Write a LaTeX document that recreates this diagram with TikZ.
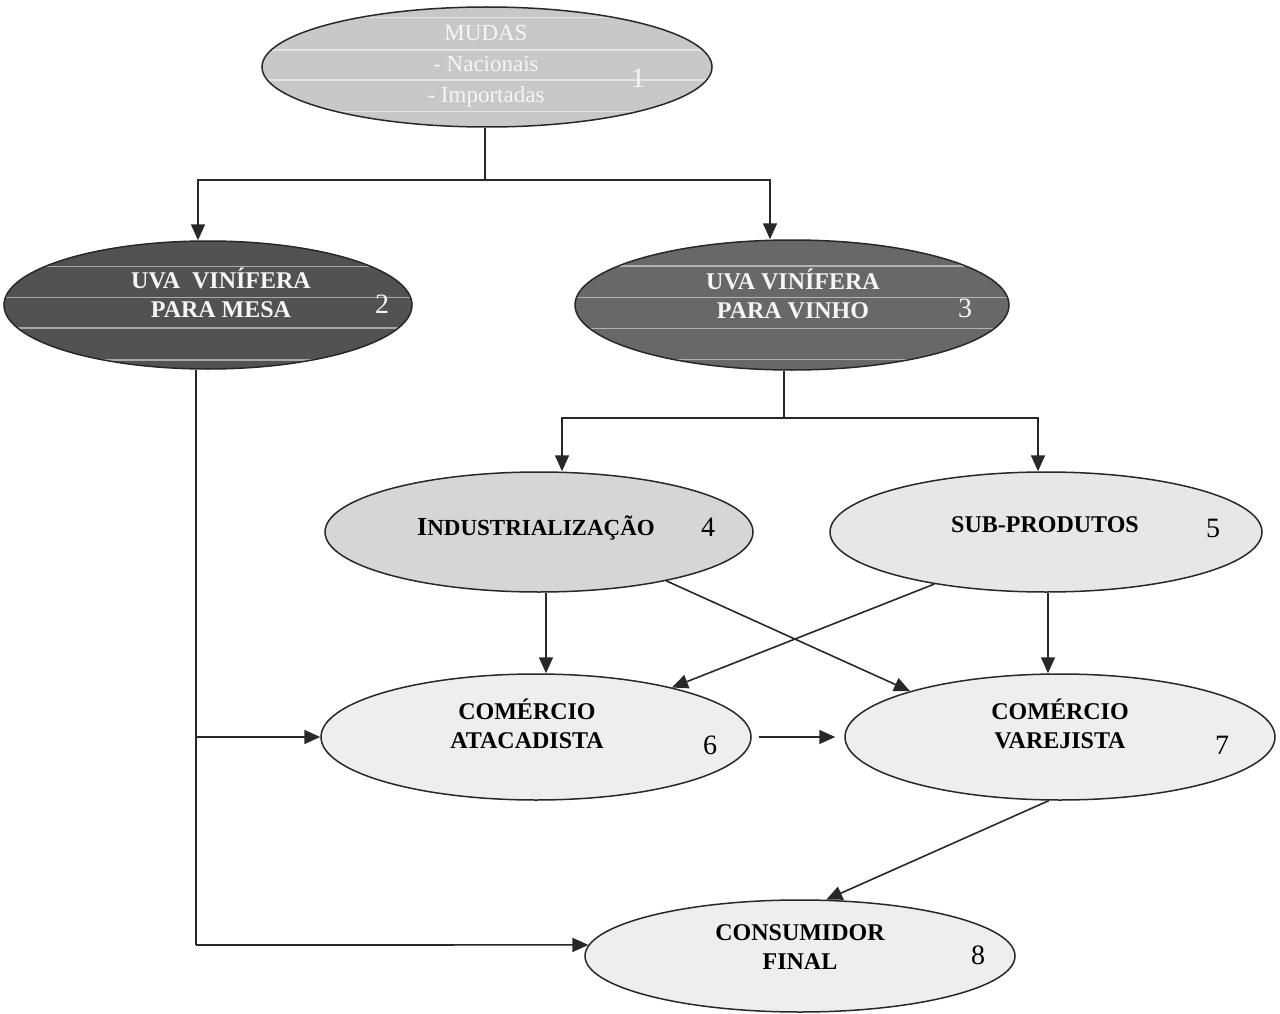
\documentclass[tikz,border=0pt]{standalone}
\usepackage{fontspec}
\setmainfont{Liberation Serif}
\usetikzlibrary{shapes.geometric,arrows.meta,calc}
\definecolor{fillA}{RGB}{200,200,200}
\definecolor{fillB}{RGB}{82,82,82}
\definecolor{fillC}{RGB}{104,104,104}
\definecolor{fillD}{RGB}{214,214,214}
\definecolor{fillE}{RGB}{231,231,231}
\definecolor{fillF}{RGB}{238,238,238}
\definecolor{paleText}{RGB}{246,246,246}
\definecolor{ink}{RGB}{40,40,40}
\begin{document}
\begin{tikzpicture}[x=1pt,y=-1pt,
  oval/.style={ellipse,draw=ink,line width=1.5pt,inner sep=0pt},
  lbl/.style={font=\fontsize{24}{29}\selectfont\bfseries,align=center,inner sep=0pt},
  num/.style={font=\fontsize{28}{32}\selectfont,inner sep=0pt},
  conn/.style={draw=ink,line width=1.6pt},
  arr/.style={conn,-{Triangle[length=16pt,width=14pt]}},
  stripes/.style={path picture={\foreach \f in {#1}{\draw[white,opacity=.5,line width=1.4pt]
      ($(path picture bounding box.north west)!\f!(path picture bounding box.south west)$) -- ++(1000,0);}}}
]
\fill[white] (0,0) rectangle (1280,1014);
\useasboundingbox (0,0) rectangle (1280,1014);

% ellipses
\node[oval,fill=fillA,minimum width=450pt,minimum height=120pt,stripes={0.09,0.36,0.61,0.87}] (e1) at (487,67) {};
\node[oval,fill=fillB,minimum width=408pt,minimum height=128pt,stripes={0.2,0.44,0.68,0.93}] (e2) at (208,305) {};
\node[oval,fill=fillC,minimum width=434pt,minimum height=130pt,stripes={0.2,0.44,0.68,0.92}] (e3) at (792,305) {};
\node[oval,fill=fillD,minimum width=428pt,minimum height=120pt] (e4) at (539,532) {};
\node[oval,fill=fillE,minimum width=432pt,minimum height=120pt] (e5) at (1046,532) {};
\node[oval,fill=fillF,minimum width=430pt,minimum height=126pt] (e6) at (536,737) {};
\node[oval,fill=fillF,minimum width=430pt,minimum height=126pt] (e7) at (1060,737) {};
\node[oval,fill=fillF,minimum width=430pt,minimum height=112pt] (e8) at (800,956) {};

% labels
\node[align=center,inner sep=0pt,text=paleText,font=\fontsize{23}{31}\selectfont] (t1) at (486,66) {MUDAS\\- Nacionais\\- Importadas};
\node[num,text=paleText] (n1) at (638,78) {1};
\node[lbl,text=paleText] (t2) at (221,293) {UVA\ \ VINÍFERA\\PARA MESA};
\node[num,text=paleText] (n2) at (382,304) {2};
\node[lbl,text=paleText] (t3) at (793,294) {UVA VINÍFERA\\PARA VINHO};
\node[num,text=paleText] (n3) at (965,308) {3};
\node[lbl] (t4) at (536,528) {{\fontsize{26}{29}\selectfont I}\fontsize{23}{29}\selectfont NDUSTRIALIZAÇÃO};
\node[num] (n4) at (708,527) {4};
\node[lbl] (t5) at (1045,525) {SUB-PRODUTOS};
\node[num] (n5) at (1213,528) {5};
\node[lbl] (t6) at (527,724) {COMÉRCIO\\ATACADISTA};
\node[num] (n6) at (710,745) {6};
\node[lbl] (t7) at (1060,724) {COMÉRCIO\\VAREJISTA};
\node[num] (n7) at (1222,745) {7};
\node[lbl] (t8) at (800,947) {CONSUMIDOR\\FINAL};
\node[num] (n8) at (978,955) {8};

% branching from the seedlings
\coordinate (bus1) at (485,180);
\draw[conn] ([xshift=-2pt]e1.south) -- (bus1);
\draw[arr] (bus1) -| ([xshift=-10pt]e2.north);
\draw[arr] (bus1) -| ([xshift=-22pt]e3.north);

% branching from wine grapes
\coordinate (bus2) at (784,418);
\draw[conn] ([xshift=-8pt]e3.south) -- (bus2);
\draw[arr] (bus2) -| ([xshift=23pt]e4.north);
\draw[arr] (bus2) -| ([xshift=-8pt]e5.north);

% industry and by-products to trade
\draw[arr] ([xshift=7pt]e4.south) -- ([xshift=7pt]e4.south |- e6.north);
\draw[arr] ([xshift=2pt]e5.south) -- ([xshift=2pt]e5.south |- e7.north);
\draw[arr] (e4.-21.6) -- (e7.163.4);
\draw[arr] (e5.-155.1) -- (e6.20.1);

% wholesale to retail
\draw[arr] ([xshift=7pt]e6.east) -- ([xshift=-9pt]e7.west);

% table grapes to trade and consumer
\coordinate (k8) at (196,945);
\draw[conn] ([xshift=-12pt]e2.south) -- (k8);
\draw[arr] (k8 |- e6.west) -- (e6.west);
\draw[arr] (k8) -- (e8.177);

% retail to consumer
\draw[arr] (e7.-100) -- (e8.65);
\end{tikzpicture}
\end{document}
